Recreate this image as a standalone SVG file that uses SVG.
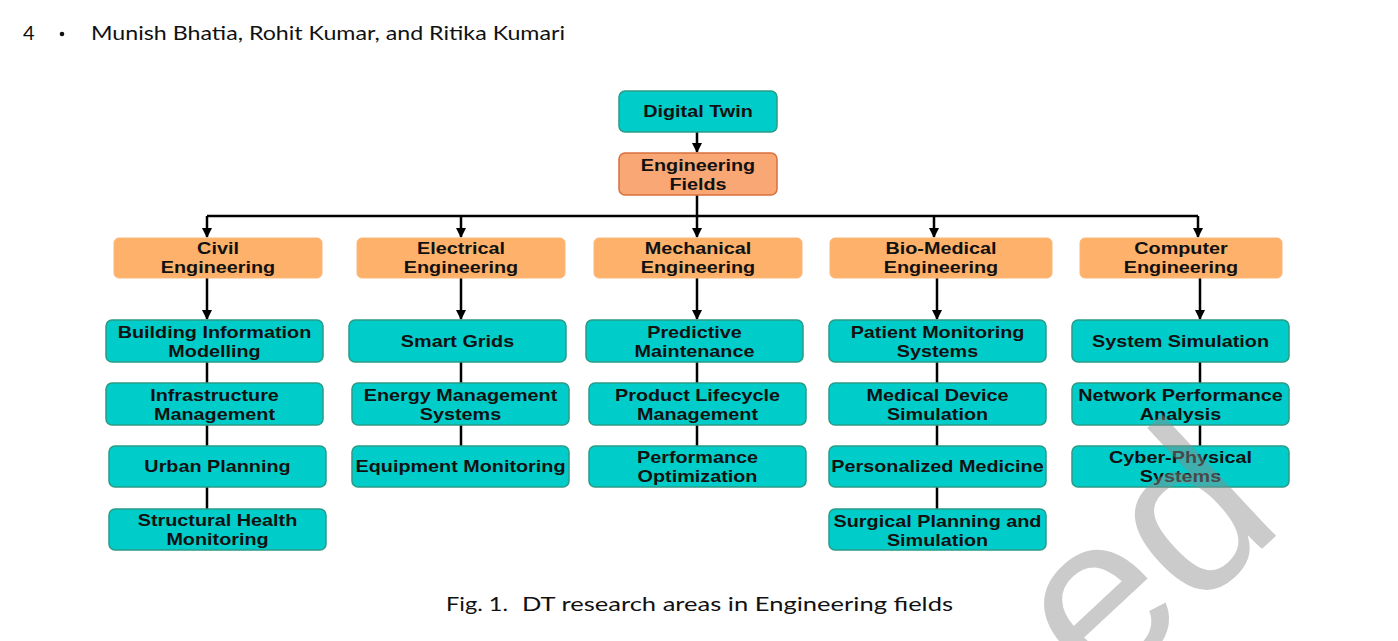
<svg xmlns="http://www.w3.org/2000/svg" width="1398" height="641" viewBox="0 0 1398 641">
<defs>
<marker id="ah" markerWidth="10" markerHeight="10" refX="9" refY="5" orient="auto" markerUnits="userSpaceOnUse">
<path d="M0,0 L10,5 L0,10 Z" fill="#000"/>
</marker>
<style>
.teal{fill:#00CCCA;stroke:#2A9C86;stroke-width:1.5}
.org{fill:#FDB16A;stroke:#FBB878;stroke-width:1}
.org2{fill:#F9A774;stroke:#D8703E;stroke-width:1.5}
.t{font-family:"Liberation Sans",Arial,sans-serif;font-weight:bold;font-size:16.5px;fill:#111;text-anchor:middle}
.c{stroke:#000;stroke-width:2.5;fill:none}
.hd{font-family:Lato,"Open Sans",sans-serif;font-size:20px;fill:#111}
</style>
</defs>
<rect width="1398" height="641" fill="#fff"/>

<text class="hd" x="23" y="40">4</text>
<circle cx="62" cy="34" r="2.3" fill="#111"/>
<text class="hd" x="91" y="40" textLength="474" lengthAdjust="spacingAndGlyphs">Munish Bhatia, Rohit Kumar, and Ritika Kumari</text>

<g id="connectors">
<path class="c" d="M697,132 V152" marker-end="url(#ah)"/>
<path class="c" d="M697,195 V216 M207,216 H1198"/>
<path class="c" d="M207,216 V237" marker-end="url(#ah)"/>
<path class="c" d="M461,216 V237" marker-end="url(#ah)"/>
<path class="c" d="M697,216 V237" marker-end="url(#ah)"/>
<path class="c" d="M934,216 V237" marker-end="url(#ah)"/>
<path class="c" d="M1198,216 V237" marker-end="url(#ah)"/>
<path class="c" d="M207,278 V319" marker-end="url(#ah)"/>
<path class="c" d="M461,278 V319" marker-end="url(#ah)"/>
<path class="c" d="M697,278 V319" marker-end="url(#ah)"/>
<path class="c" d="M937,278 V319" marker-end="url(#ah)"/>
<path class="c" d="M1200,278 V319" marker-end="url(#ah)"/>
<path class="c" d="M207,362 V383 M207,425 V446 M207,487 V509"/>
<path class="c" d="M461,362 V383 M461,425 V446"/>
<path class="c" d="M697,362 V383 M697,425 V446"/>
<path class="c" d="M937,362 V383 M937,425 V446 M937,487 V509"/>
<path class="c" d="M1200,362 V383 M1200,425 V446"/>
</g>

<g id="n-dt"><rect class="teal" x="619" y="91" width="158" height="41" rx="6" stroke="#1F8A80"/>
<text class="t" transform="translate(698,117) scale(1.2,1)">Digital Twin</text></g>
<g id="n-ef"><rect class="org2" x="619" y="153" width="158" height="42" rx="6"/>
<text class="t" transform="translate(698,171) scale(1.2,1)"><tspan x="0">Engineering</tspan><tspan x="0" dy="19">Fields</tspan></text></g>

<g id="n-civil"><rect class="org" x="114" y="238" width="208" height="40" rx="5"/>
<text class="t" transform="translate(218,254) scale(1.2,1)"><tspan x="0">Civil</tspan><tspan x="0" dy="19">Engineering</tspan></text></g>
<g id="n-elec"><rect class="org" x="357" y="238" width="208" height="40" rx="5"/>
<text class="t" transform="translate(461,254) scale(1.2,1)"><tspan x="0">Electrical</tspan><tspan x="0" dy="19">Engineering</tspan></text></g>
<g id="n-mech"><rect class="org" x="594" y="238" width="208" height="40" rx="5"/>
<text class="t" transform="translate(698,254) scale(1.2,1)"><tspan x="0">Mechanical</tspan><tspan x="0" dy="19">Engineering</tspan></text></g>
<g id="n-bio"><rect class="org" x="830" y="238" width="222" height="40" rx="5"/>
<text class="t" transform="translate(941,254) scale(1.2,1)"><tspan x="0">Bio-Medical</tspan><tspan x="0" dy="19">Engineering</tspan></text></g>
<g id="n-comp"><rect class="org" x="1080" y="238" width="202" height="40" rx="5"/>
<text class="t" transform="translate(1181,254) scale(1.2,1)"><tspan x="0">Computer</tspan><tspan x="0" dy="19">Engineering</tspan></text></g>

<g id="n-bim"><rect class="teal" x="106" y="320" width="217" height="42" rx="6"/>
<text class="t" transform="translate(214.5,338) scale(1.2,1)"><tspan x="0">Building Information</tspan><tspan x="0" dy="19">Modelling</tspan></text></g>
<g id="n-infra"><rect class="teal" x="106" y="383" width="217" height="42" rx="6"/>
<text class="t" transform="translate(214.5,401) scale(1.2,1)"><tspan x="0">Infrastructure</tspan><tspan x="0" dy="19">Management</tspan></text></g>
<g id="n-urban"><rect class="teal" x="109" y="446" width="217" height="41" rx="6"/>
<text class="t" transform="translate(217.5,472) scale(1.2,1)">Urban Planning</text></g>
<g id="n-shm"><rect class="teal" x="109" y="509" width="217" height="41" rx="6"/>
<text class="t" transform="translate(217.5,526) scale(1.2,1)"><tspan x="0">Structural Health</tspan><tspan x="0" dy="19">Monitoring</tspan></text></g>

<g id="n-smart"><rect class="teal" x="349" y="320" width="217" height="42" rx="6"/>
<text class="t" transform="translate(457.5,347) scale(1.2,1)">Smart Grids</text></g>
<g id="n-energy"><rect class="teal" x="352" y="383" width="217" height="42" rx="6"/>
<text class="t" transform="translate(460.5,401) scale(1.2,1)"><tspan x="0">Energy Management</tspan><tspan x="0" dy="19">Systems</tspan></text></g>
<g id="n-equip"><rect class="teal" x="352" y="446" width="217" height="41" rx="6"/>
<text class="t" transform="translate(460.5,472) scale(1.2,1)">Equipment Monitoring</text></g>

<g id="n-pred"><rect class="teal" x="586" y="320" width="217" height="42" rx="6"/>
<text class="t" transform="translate(694.5,338) scale(1.2,1)"><tspan x="0">Predictive</tspan><tspan x="0" dy="19">Maintenance</tspan></text></g>
<g id="n-plm"><rect class="teal" x="589" y="383" width="217" height="42" rx="6"/>
<text class="t" transform="translate(697.5,401) scale(1.2,1)"><tspan x="0">Product Lifecycle</tspan><tspan x="0" dy="19">Management</tspan></text></g>
<g id="n-perf"><rect class="teal" x="589" y="446" width="217" height="41" rx="6"/>
<text class="t" transform="translate(697.5,463) scale(1.2,1)"><tspan x="0">Performance</tspan><tspan x="0" dy="19">Optimization</tspan></text></g>

<g id="n-patient"><rect class="teal" x="829" y="320" width="217" height="42" rx="6"/>
<text class="t" transform="translate(937.5,338) scale(1.2,1)"><tspan x="0">Patient Monitoring</tspan><tspan x="0" dy="19">Systems</tspan></text></g>
<g id="n-mds"><rect class="teal" x="829" y="383" width="217" height="42" rx="6"/>
<text class="t" transform="translate(937.5,401) scale(1.2,1)"><tspan x="0">Medical Device</tspan><tspan x="0" dy="19">Simulation</tspan></text></g>
<g id="n-pm"><rect class="teal" x="829" y="446" width="217" height="41" rx="6"/>
<text class="t" transform="translate(937.5,472) scale(1.2,1)">Personalized Medicine</text></g>
<g id="n-surg"><rect class="teal" x="829" y="509" width="217" height="41" rx="6"/>
<text class="t" transform="translate(937.5,527) scale(1.2,1)"><tspan x="0">Surgical Planning and</tspan><tspan x="0" dy="19">Simulation</tspan></text></g>

<g id="n-sys"><rect class="teal" x="1072" y="320" width="217" height="42" rx="6"/>
<text class="t" transform="translate(1180.5,347) scale(1.2,1)">System Simulation</text></g>
<g id="n-net"><rect class="teal" x="1072" y="383" width="217" height="42" rx="6"/>
<text class="t" transform="translate(1180.5,401) scale(1.2,1)"><tspan x="0">Network Performance</tspan><tspan x="0" dy="19">Analysis</tspan></text></g>
<g id="n-cps"><rect class="teal" x="1072" y="446" width="217" height="41" rx="6"/>
<text class="t" transform="translate(1180.5,463) scale(1.2,1)"><tspan x="0">Cyber-Physical</tspan><tspan x="0" dy="19">Systems</tspan></text></g>

<text class="hd" x="446" y="611" textLength="62" lengthAdjust="spacingAndGlyphs">Fig. 1.</text>
<text class="hd" x="522" y="611" textLength="431" lengthAdjust="spacingAndGlyphs">DT research areas in Engineering fields</text>

<text transform="translate(1100,700) rotate(-43)" font-family="Liberation Sans,Arial,sans-serif" font-size="230" fill="#8c8c8c" fill-opacity="0.45">ed</text>
</svg>
